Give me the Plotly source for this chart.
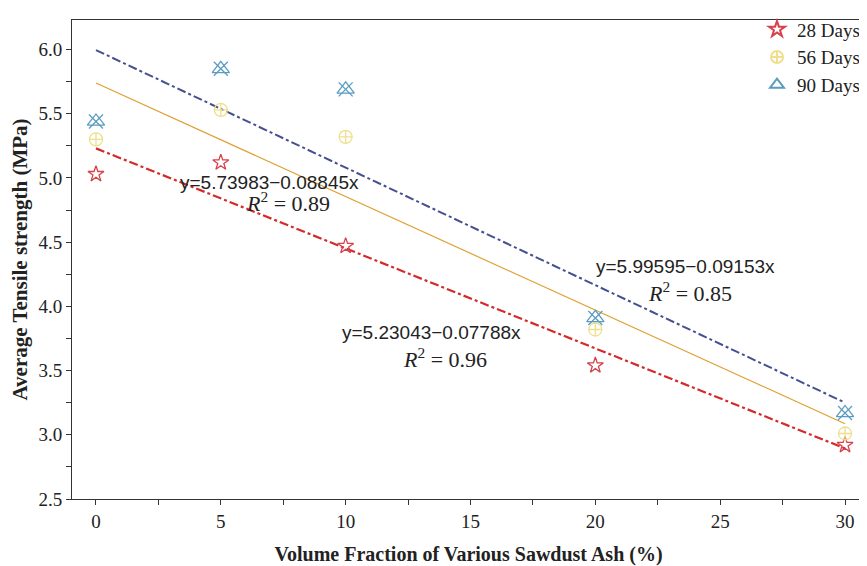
import plotly.graph_objects as go

x_vals = [0, 5, 10, 20, 30]
d28 = [5.03, 5.12, 4.47, 3.54, 2.92]
d56 = [5.30, 5.53, 5.32, 3.82, 3.01]
d90 = [5.44, 5.85, 5.69, 3.91, 3.17]

fit28 = (5.23043, -0.07788, 0.96)
fit56 = (5.73983, -0.08845, 0.89)
fit90 = (5.99595, -0.09153, 0.85)

x_ticks = [0, 2.5, 5, 7.5, 10, 12.5, 15, 17.5, 20, 22.5, 25, 27.5, 30]
x_ticktext = ["0", "", "5", "", "10", "", "15", "", "20", "", "25", "", "30"]
y_ticks = [2.5, 2.75, 3.0, 3.25, 3.5, 3.75, 4.0, 4.25, 4.5, 4.75, 5.0, 5.25, 5.5, 5.75, 6.0]
y_ticktext = ["2.5", "", "3.0", "", "3.5", "", "4.0", "", "4.5", "", "5.0", "", "5.5", "", "6.0"]

x_fit = [0, 30]

serif = "Liberation Serif"
sans = "Liberation Sans"

fig = go.Figure()

def line_y(fit):
    return [fit[0] + fit[1] * xv for xv in x_fit]

# fit lines
fig.add_trace(go.Scatter(x=x_fit, y=line_y(fit90), mode="lines",
                         line=dict(color="#44508f", width=2, dash="dashdot"),
                         showlegend=False, hoverinfo="skip"))
fig.add_trace(go.Scatter(x=x_fit, y=line_y(fit56), mode="lines",
                         line=dict(color="#e0a035", width=1.2),
                         showlegend=False, hoverinfo="skip"))
fig.add_trace(go.Scatter(x=x_fit, y=line_y(fit28), mode="lines",
                         line=dict(color="#d42a2a", width=2.2, dash="dashdot"),
                         showlegend=False, hoverinfo="skip"))

# markers
fig.add_trace(go.Scatter(x=x_vals, y=d28, mode="markers", name="28 Days",
                         marker=dict(symbol="star-open", size=12, color="#d8404a",
                                     line=dict(width=1.3, color="#d8404a"))))
fig.add_trace(go.Scatter(x=x_vals, y=d56, mode="markers", name="56 Days",
                         marker=dict(symbol="circle-cross-open", size=13, color="#efdf8c",
                                     line=dict(width=1.3, color="#efdf8c"))))
fig.add_trace(go.Scatter(x=x_vals, y=d90, mode="markers", name="90 Days", legendgroup="g90",
                         marker=dict(symbol="triangle-up-open", size=15, color="#5a9cc0",
                                     line=dict(width=1.3, color="#5a9cc0"))))
fig.add_trace(go.Scatter(x=x_vals, y=d90, mode="markers", name="90 Days", legendgroup="g90",
                         showlegend=False,
                         marker=dict(symbol="x-thin-open", size=14, color="#5a9cc0",
                                     line=dict(width=1.3, color="#5a9cc0"))))

ann_specs = [
    (fit56, 6.93, 4.965, 7.7, 4.815),
    (fit90, 23.6, 4.31, 23.8, 4.115),
    (fit28, 13.42, 3.795, 13.98, 3.60),
]
for fit, ex, ey, rx, ry in ann_specs:
    fig.add_annotation(x=ex, y=ey, text=f"y={fit[0]:.5f}\u2212{abs(fit[1]):.5f}x",
                       showarrow=False, font=dict(family=sans, size=19, color="#222"))
    fig.add_annotation(x=rx, y=ry, text=f"<i>R</i><sup>2</sup> = {fit[2]:.2f}",
                       showarrow=False, font=dict(family=serif, size=22, color="#222"))

axis_common = dict(showline=True, linecolor="#333", linewidth=1, mirror=True,
                   ticks="outside", ticklen=5, tickcolor="#333", showgrid=False,
                   zeroline=False, automargin=False,
                   tickfont=dict(family=serif, size=19, color="#222"))

# page has an 8px body margin, so the figure is 8px smaller than the window
fig.update_layout(
    template="none",
    width=859, height=558,
    margin=dict(l=64, r=2, t=4, b=67),
    paper_bgcolor="white", plot_bgcolor="white",
    font=dict(family=serif, size=19, color="#222"),
    legend=dict(x=1.0, y=1.02, xanchor="right", yanchor="top", bgcolor="rgba(0,0,0,0)",
                font=dict(family=serif, size=19), itemwidth=30, tracegroupgap=0,
                itemsizing="constant"),
    xaxis=dict(range=[-0.96, 30.8], tickmode="array", tickvals=x_ticks, ticktext=x_ticktext,
               title=dict(text="<b>Volume Fraction of Various Sawdust Ash (%)</b>",
                          font=dict(family=serif, size=20)),
               **axis_common),
    yaxis=dict(range=[2.5, 6.23], tickmode="array", tickvals=y_ticks, ticktext=y_ticktext,
               title=dict(text="<b>Average Tensile strength (MPa)</b>",
                          font=dict(family=serif, size=21)),
               **axis_common),
)

fig.write_html("out.html")
